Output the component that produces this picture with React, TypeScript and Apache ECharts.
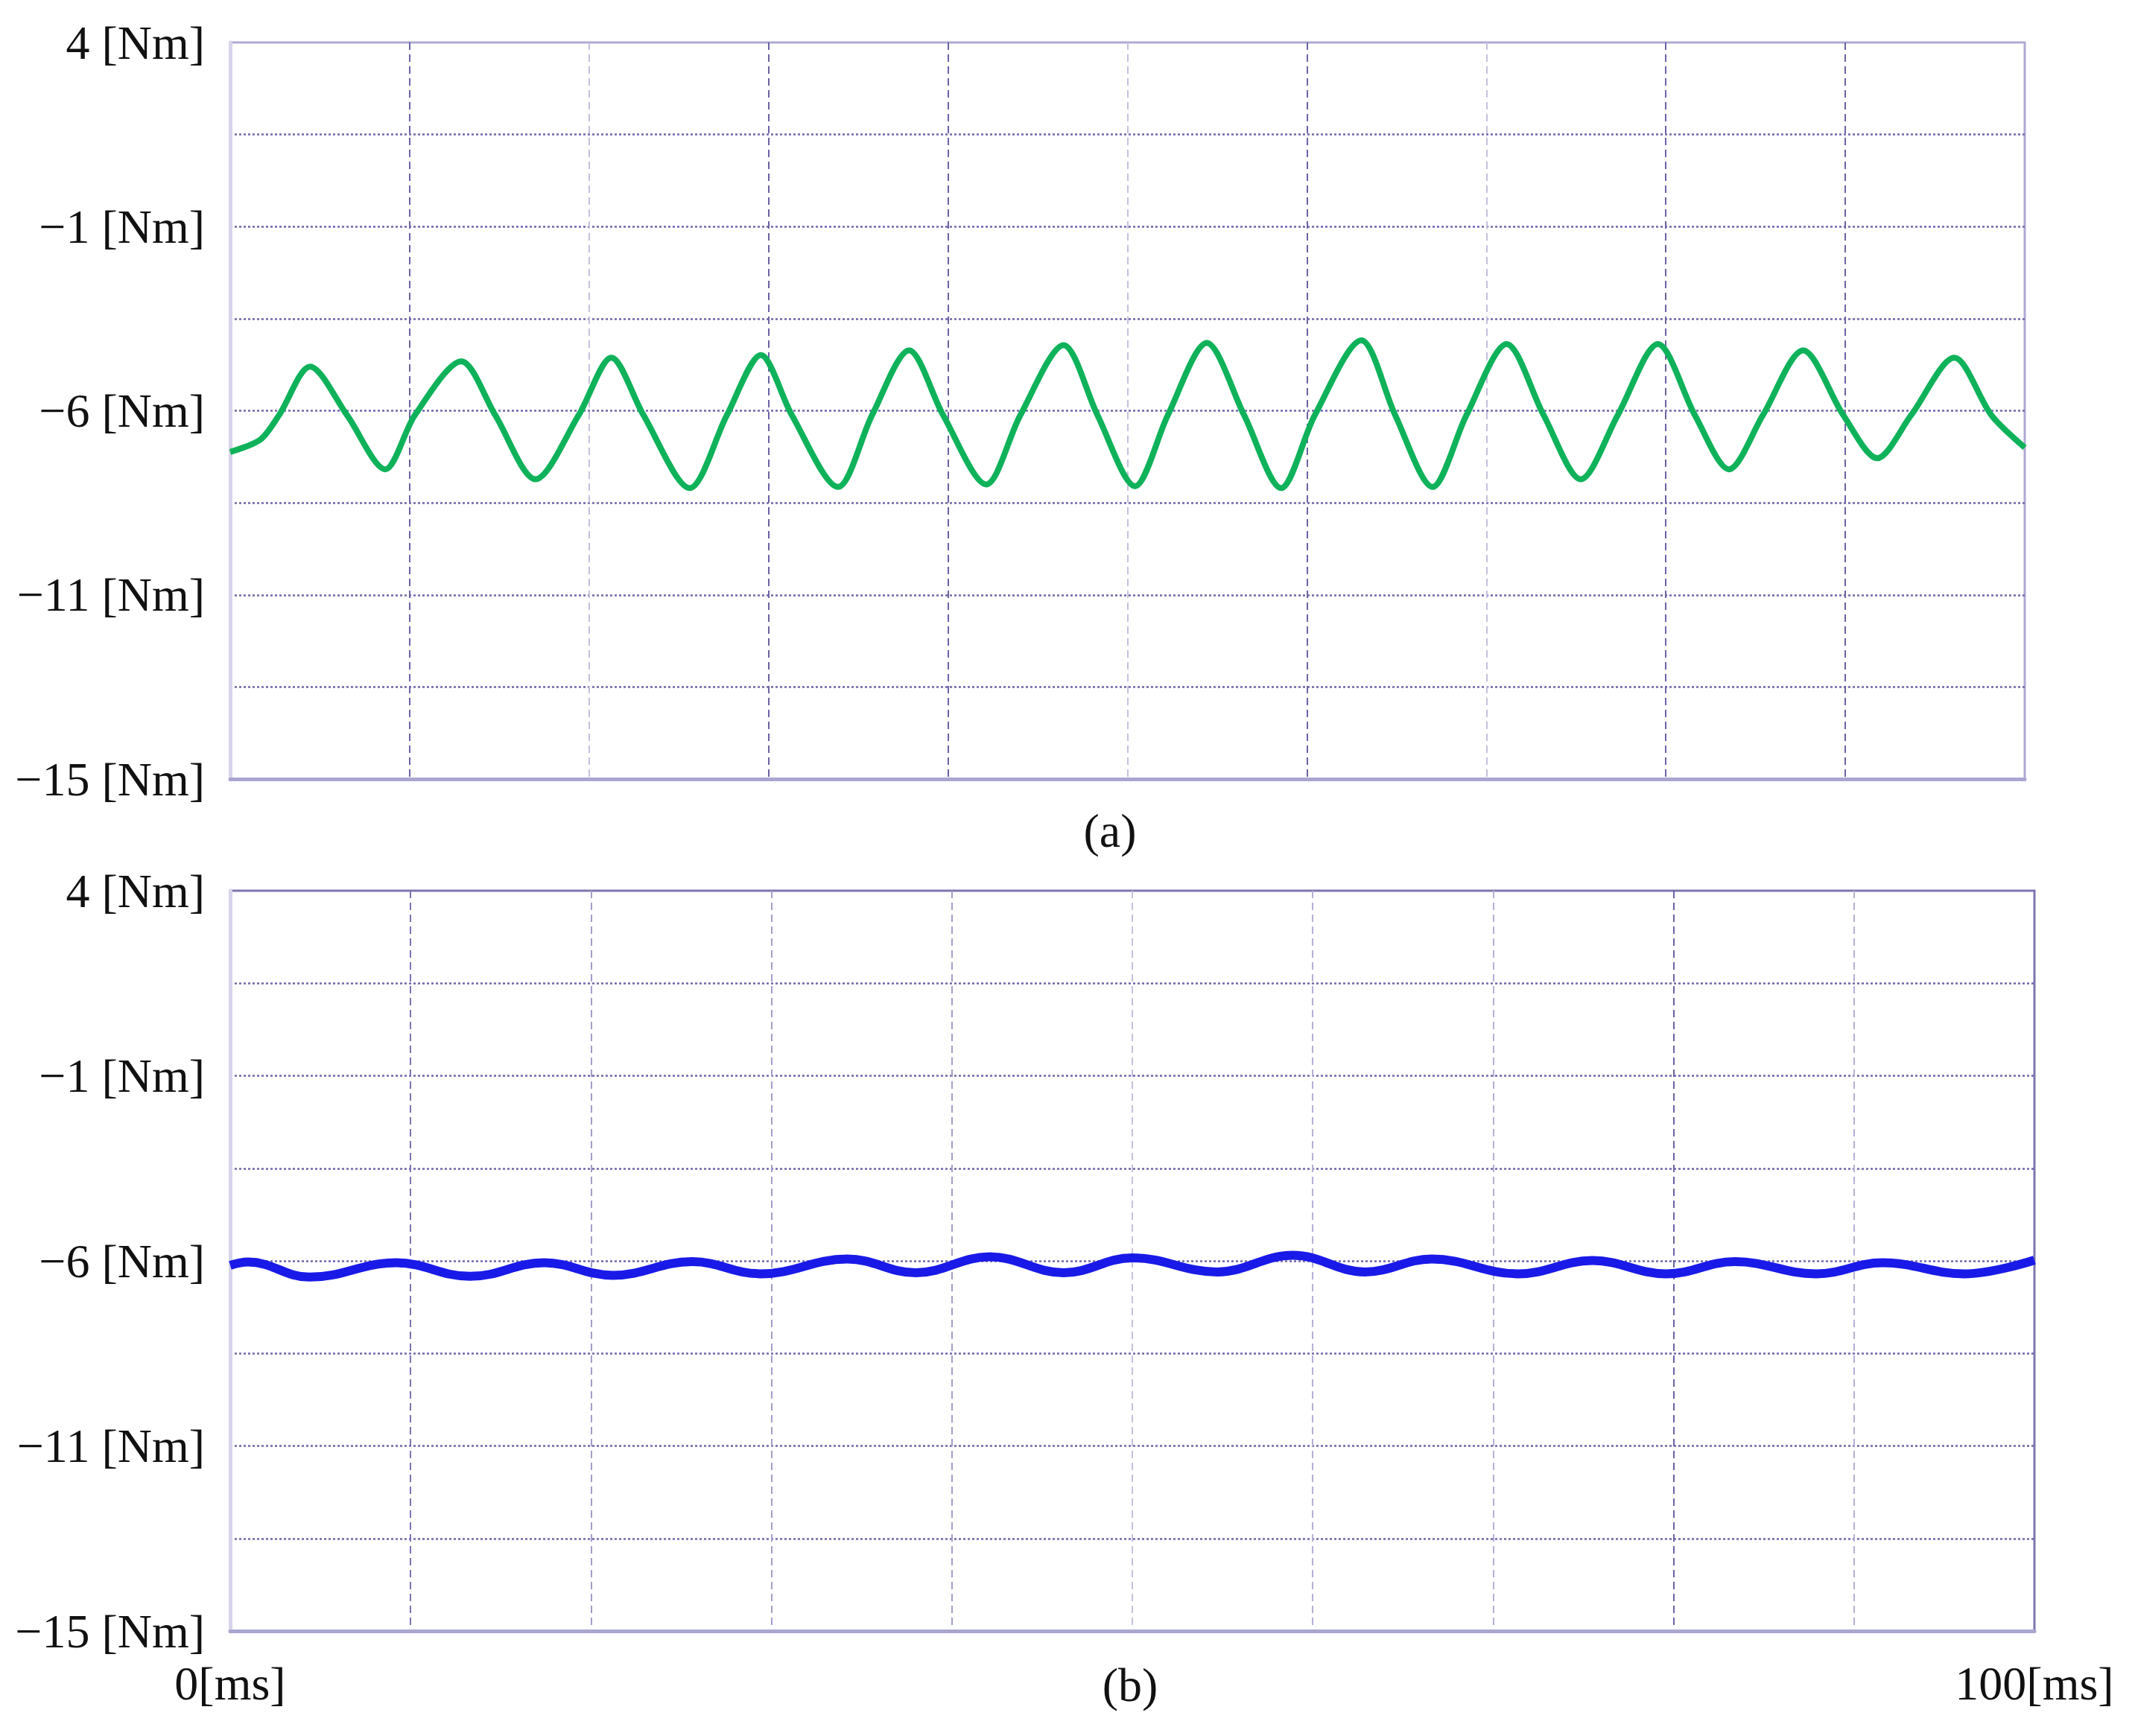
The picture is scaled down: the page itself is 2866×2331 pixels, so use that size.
import React, { useEffect, useRef } from "react";
import * as echarts from "echarts";

// ---- data (time in ms, torque in Nm) ----
const TIME_A = [
  0, 1.69, 2.72, 4.45, 6.51, 8.64, 10.29, 12.88, 14.77, 17.01, 19.42, 21.24, 23.03, 25.61,
  27.68, 29.57, 31.3, 33.87, 35.77, 37.83, 39.73, 42.13, 44.03, 46.44, 48.33, 50.42, 52.25,
  54.42, 56.5, 58.56, 60.44, 63.03, 64.92, 67.0, 68.89, 71.13, 73.19, 75.26, 77.32, 79.56,
  81.62, 83.52, 85.41, 87.65, 89.89, 91.78, 93.67, 96.08, 98.14, 100,
];
const TORQUE_A = [
  -7.12, -6.78, -6.12, -4.8, -6.12, -7.59, -6.12, -4.66, -6.12, -7.86, -6.12, -4.56, -6.12, -8.1,
  -6.12, -4.49, -6.12, -8.07, -6.12, -4.36, -6.12, -8.0, -6.12, -4.22, -6.12, -8.05, -6.12,
  -4.16, -6.12, -8.1, -6.12, -4.09, -6.12, -8.07, -6.12, -4.19, -6.12, -7.86, -6.12, -4.19,
  -6.12, -7.59, -6.12, -4.36, -6.12, -7.29, -6.12, -4.56, -6.12, -7.0,
];
const TIME_B = [
  0, 1.0, 4.4, 9.2, 13.3, 17.4, 21.2, 25.6, 29.4, 34.2, 38.0, 42.1, 46.2, 50.0, 54.7, 58.9,
  62.9, 66.6, 71.4, 75.5, 79.6, 83.4, 87.9, 91.6, 96.1, 100,
];
const TORQUE_B = [
  -6.12, -6.03, -6.44, -6.05, -6.42, -6.05, -6.39, -6.02, -6.35, -5.95, -6.32, -5.89, -6.32,
  -5.92, -6.3, -5.85, -6.3, -5.95, -6.35, -5.99, -6.35, -6.02, -6.35, -6.05, -6.35, -5.98,
];

const Y_TICK_LABELS = ["−15 [Nm]", "", "−11 [Nm]", "", "−6 [Nm]", "", "−1 [Nm]", "", "4 [Nm]"];
const X_TICK_LABELS = ["0[ms]", "100[ms]"];
const PANEL_CAPTIONS = ["(a)", "(b)"];

const Y_MIN = -16;
const Y_MAX = 4;
const Y_STEP = 2.5;
const X_MIN = 0;
const X_MAX = 100;
const X_STEP = 10;

const FONT = '"Liberation Serif", "Times New Roman", serif';

export default function App() {
  const ref = useRef<HTMLDivElement>(null);

  useEffect(() => {
    document.body.style.margin = "0";
    if (!ref.current) return;
    const chart = echarts.init(ref.current, null, { renderer: "svg" });

    const yAxisBase = (gridIndex: number) => ({
      type: "value",
      gridIndex,
      min: Y_MIN,
      max: Y_MAX,
      interval: Y_STEP,
      axisLine: { show: true, lineStyle: { color: "#d6d4ea", width: 5 } },
      axisTick: { show: false },
      axisLabel: {
        show: true,
        margin: 34,
        color: "#111",
        fontFamily: FONT,
        fontSize: 64,
        formatter: (v: number) => Y_TICK_LABELS[Math.round((v - Y_MIN) / Y_STEP)] ?? "",
      },
      splitLine: {
        show: true,
        showMinLine: false,
        showMaxLine: false,
        lineStyle: { color: "#6f66aa", width: 2.5, type: [3, 3] },
      },
    });

    const xAxisBase = (gridIndex: number, showLabels: boolean, colors: string[]) => ({
      type: "value",
      gridIndex,
      min: X_MIN,
      max: X_MAX,
      interval: X_STEP,
      axisLine: { show: true, onZero: false, lineStyle: { color: "#aaa6d0", width: 5 } },
      axisTick: { show: false },
      axisLabel: {
        show: showLabels,
        margin: 38,
        color: "#111",
        fontFamily: FONT,
        fontSize: 64,
        showMinLabel: true,
        showMaxLabel: true,
        formatter: (v: number) =>
          v === X_MIN ? X_TICK_LABELS[0] : v === X_MAX ? X_TICK_LABELS[1] : "",
      },
      splitLine: {
        show: true,
        showMinLine: false,
        showMaxLine: false,
        lineStyle: { color: colors, width: 2, type: [10, 6] },
      },
    });

    const option = {
      animation: false,
      backgroundColor: "#ffffff",
      grid: [
        {
          left: 309,
          top: 57,
          width: 2409,
          height: 989,
          show: true,
          borderColor: "#aeaad3",
          borderWidth: 3,
          containLabel: false,
        },
        {
          left: 309,
          top: 1196,
          width: 2422,
          height: 994,
          show: true,
          borderColor: "#7c76b0",
          borderWidth: 3,
          containLabel: false,
        },
      ],
      xAxis: [
        xAxisBase(0, false, [
          "#6a63a5", "#c4c0de", "#6a63a5", "#6a63a5", "#c4c0de",
          "#6a63a5", "#c4c0de", "#6a63a5", "#6a63a5",
        ]),
        xAxisBase(1, true, [
          "#7a74b0", "#a29ec8", "#a29ec8", "#a29ec8", "#c4c0de",
          "#b4b0d6", "#b4b0d6", "#6a63a5", "#b4b0d6",
        ]),
      ],
      yAxis: [yAxisBase(0), yAxisBase(1)],
      graphic: [
        {
          type: "text",
          x: 1490,
          y: 1115,
          style: {
            text: PANEL_CAPTIONS[0],
            fill: "#111",
            font: `64px ${FONT}`,
            textAlign: "center",
            textVerticalAlign: "middle",
          },
        },
        {
          type: "text",
          x: 1517,
          y: 2262,
          style: {
            text: PANEL_CAPTIONS[1],
            fill: "#111",
            font: `64px ${FONT}`,
            textAlign: "center",
            textVerticalAlign: "middle",
          },
        },
      ],
      series: [
        {
          type: "line",
          xAxisIndex: 0,
          yAxisIndex: 0,
          data: TIME_A.map((t, i) => [t, TORQUE_A[i]]),
          showSymbol: false,
          smooth: 0.3,
          lineStyle: { color: "#0fb25a", width: 8 },
          z: 5,
        },
        {
          type: "line",
          xAxisIndex: 1,
          yAxisIndex: 1,
          data: TIME_B.map((t, i) => [t, TORQUE_B[i]]),
          showSymbol: false,
          smooth: 0.4,
          lineStyle: { color: "#1a1ae8", width: 12 },
          z: 5,
        },
      ],
    };

    chart.setOption(option as any);
    return () => chart.dispose();
  }, []);

  return <div ref={ref} style={{ width: 2866, height: 2331 }} />;
}
